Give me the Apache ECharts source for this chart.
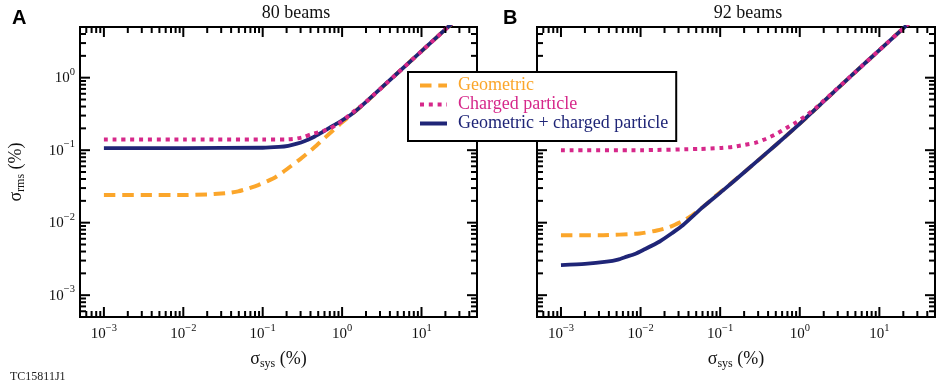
<!DOCTYPE html>
<html>
<head>
<meta charset="utf-8">
<script src="https://cdn.jsdelivr.net/npm/echarts@6/dist/echarts.min.js"></script>
<style>
  html, body { margin: 0; padding: 0; background: #fff; }
  #chart { width: 941px; height: 385px; }
</style>
</head>
<body>
<div id="chart"></div>
<script>
var serif = '"Liberation Serif", "Times New Roman", serif';

// panel A: 80 beams
var xA_geo = [0.001, 0.003, 0.01, 0.02, 0.03, 0.04, 0.049, 0.065, 0.088, 0.115, 0.143, 0.18, 0.23, 0.3, 0.376, 0.48, 0.61, 0.78, 0.99, 1.31, 2, 5, 10, 25];
var yA_geo = [0.024, 0.024, 0.024, 0.0245, 0.0252, 0.026, 0.027, 0.0295, 0.033, 0.0375, 0.042, 0.05, 0.061, 0.076, 0.093, 0.117, 0.149, 0.19, 0.24, 0.31, 0.46, 1.16, 2.32, 5.8];
var xA_chg = [0.001, 0.01, 0.1, 0.2, 0.26, 0.33, 0.41, 0.52, 0.67, 0.83, 1.0, 1.35, 1.94, 5, 10, 25];
var yA_chg = [0.14, 0.14, 0.14, 0.141, 0.144, 0.152, 0.166, 0.178, 0.194, 0.22, 0.252, 0.33, 0.45, 1.16, 2.32, 5.8];
var xA_sum = [0.001, 0.01, 0.1, 0.16, 0.21, 0.27, 0.34, 0.44, 0.55, 0.7, 0.9, 1.3, 1.94, 5, 10, 25];
var yA_sum = [0.107, 0.107, 0.108, 0.111, 0.115, 0.123, 0.134, 0.152, 0.175, 0.205, 0.24, 0.31, 0.45, 1.16, 2.32, 5.8];

// panel B: 92 beams
var xB_geo = [0.001, 0.003, 0.0098, 0.016, 0.0232, 0.033, 0.0454, 0.065, 0.089, 0.1077, 0.211, 0.5, 0.98, 2, 5, 10, 25];
var yB_geo = [0.0067, 0.0067, 0.0071, 0.0078, 0.0087, 0.0104, 0.0128, 0.0175, 0.0237, 0.028, 0.052, 0.118, 0.227, 0.47, 1.2, 2.4, 6.0];
var xB_chg = [0.001, 0.01, 0.055, 0.1, 0.144, 0.2, 0.28, 0.38, 0.5, 0.67, 0.89, 1.2, 1.58, 5, 10, 25];
var yB_chg = [0.10, 0.10, 0.104, 0.107, 0.111, 0.118, 0.127, 0.144, 0.166, 0.2, 0.24, 0.3, 0.38, 1.2, 2.4, 6.0];
var xB_sum = [0.001, 0.002, 0.00375, 0.0052, 0.0067, 0.0085, 0.0108, 0.0174, 0.025, 0.034, 0.0606, 0.1077, 0.211, 0.5, 0.98, 2, 5, 10, 25];
var yB_sum = [0.0026, 0.0027, 0.0029, 0.0031, 0.0034, 0.0037, 0.0042, 0.0055, 0.0072, 0.0092, 0.0164, 0.0277, 0.052, 0.118, 0.227, 0.47, 1.2, 2.4, 6.0];

var names = ['Geometric', 'Charged particle', 'Geometric + charged particle'];
var colors = ['#FBA62B', '#D6288A', '#1F2577'];
var panelTitles = ['80 beams', '92 beams'];
var xMin = 5e-4, xMax = 50, yMin = 5e-4, yMax = 5;

function pairs(xs, ys) {
  return xs.map(function (x, i) { return [x, ys[i]]; });
}

// tick positions (major at 10^k, minor at m*10^k)
function tickList(lo, hi, kind, other) {
  var out = [];
  for (var k = -4; k <= 2; k++) {
    for (var m = 1; m <= 9; m++) {
      var v = m * Math.pow(10, k);
      if (v > lo * 1.001 && v < hi * 0.999) {
        out.push(kind === 0 ? [v, other, 0, m === 1 ? 1 : 0] : [other, v, 1, m === 1 ? 1 : 0]);
      }
    }
  }
  return out;
}
var tickData = tickList(xMin, xMax, 0, 0.01).concat(tickList(yMin, yMax, 1, 0.01));

function powLabel(v) {
  var l = Math.log10(v);
  var e = Math.round(l);
  if (Math.abs(l - e) > 1e-6) return '';
  return '{b|10}{s|' + (e < 0 ? '\u2212' + (-e) : e) + '}';
}
var powRich = {
  b: { fontFamily: serif, fontSize: 15, color: '#111', lineHeight: 16, verticalAlign: 'bottom' },
  s: { fontFamily: serif, fontSize: 10.5, color: '#111', lineHeight: 10, verticalAlign: 'bottom', padding: [0, 0, 8, 0] }
};
var nameRich = {
  g: { fontFamily: serif, fontSize: 18, color: '#111', lineHeight: 18, verticalAlign: 'top' },
  sub: { fontFamily: serif, fontSize: 12, color: '#111', lineHeight: 12, verticalAlign: 'top', padding: [8, 0, 0, 0] }
};

function renderTick(params, api) {
  var cs = params.coordSys;
  var kind = api.value(2);
  var len = api.value(3) ? 10 : 6;
  var p = api.coord([api.value(0), api.value(1)]);
  var st = { stroke: '#000', lineWidth: 2 };
  if (kind === 0) {
    return { type: 'group', children: [
      { type: 'line', shape: { x1: p[0], y1: cs.y + cs.height, x2: p[0], y2: cs.y + cs.height - len }, style: st },
      { type: 'line', shape: { x1: p[0], y1: cs.y, x2: p[0], y2: cs.y + len }, style: st }
    ] };
  }
  return { type: 'group', children: [
    { type: 'line', shape: { x1: cs.x, y1: p[1], x2: cs.x + len, y2: p[1] }, style: st },
    { type: 'line', shape: { x1: cs.x + cs.width, y1: p[1], x2: cs.x + cs.width - len, y2: p[1] }, style: st }
  ] };
}

var panels = [
  [pairs(xA_geo, yA_geo), pairs(xA_chg, yA_chg), pairs(xA_sum, yA_sum)],
  [pairs(xB_geo, yB_geo), pairs(xB_chg, yB_chg), pairs(xB_sum, yB_sum)]
];
var lineTypes = [[11.5, 6.8], [4, 4.8], 'solid'];
var lineWidths = [4, 4, 3.8];
var zs = [2, 4, 3];

var series = [];
panels.forEach(function (curves, p) {
  curves.forEach(function (data, i) {
    series.push({
      name: names[i],
      type: 'line',
      xAxisIndex: p,
      yAxisIndex: p,
      data: data,
      symbol: 'none',
      showSymbol: false,
      smooth: 0.2,
      clip: true,
      z: zs[i],
      itemStyle: { color: colors[i] },
      lineStyle: { color: colors[i], width: lineWidths[i], type: lineTypes[i], cap: 'butt', join: 'round' }
    });
  });
  series.push({
    type: 'custom',
    xAxisIndex: p,
    yAxisIndex: p,
    data: tickData,
    renderItem: renderTick,
    clip: false,
    silent: true,
    z: 6
  });
});

var grids = [
  { left: 80, top: 27, width: 397, height: 290 },
  { left: 537, top: 27, width: 398, height: 290 }
];

var chart = echarts.init(document.getElementById('chart'));
chart.setOption({
  backgroundColor: '#fff',
  animation: false,
  grid: grids.map(function (g) {
    return Object.assign({ show: true, borderColor: '#000', borderWidth: 2, backgroundColor: 'transparent' }, g);
  }),
  xAxis: [0, 1].map(function (p) {
    return {
      type: 'log', logBase: 10, gridIndex: p, min: xMin, max: xMax,
      axisLine: { show: false }, axisTick: { show: false }, splitLine: { show: false },
      axisLabel: { formatter: powLabel, rich: powRich, margin: 9, showMinLabel: false, showMaxLabel: false },
      name: '{g|\u03c3}{sub|sys}{g| (%)}',
      nameLocation: 'middle', nameGap: 33,
      nameTextStyle: { rich: nameRich }
    };
  }),
  yAxis: [0, 1].map(function (p) {
    return {
      type: 'log', logBase: 10, gridIndex: p, min: yMin, max: yMax,
      axisLine: { show: false }, axisTick: { show: false }, splitLine: { show: false },
      axisLabel: { show: p === 0, formatter: powLabel, rich: powRich, margin: 5, showMinLabel: false, showMaxLabel: false },
      name: p === 0 ? '{g|\u03c3}{sub|rms}{g| (%)}' : '',
      nameLocation: 'middle', nameGap: 55, nameRotate: 90,
      nameTextStyle: { rich: nameRich }
    };
  }),
  legend: {
    left: 408, top: 72,
    orient: 'vertical',
    backgroundColor: '#fff',
    borderColor: '#000', borderWidth: 2, borderRadius: 0,
    padding: [4, 8, 8, 10],
    itemWidth: 27, itemHeight: 14, itemGap: 0,
    itemStyle: { opacity: 0 },
    lineStyle: { width: 4 },
    z: 10,
    data: names.map(function (n, i) {
      return { name: n, textStyle: { color: colors[i] } };
    }),
    textStyle: { fontFamily: serif, fontSize: 18, lineHeight: 19, padding: [0, 0, 0, 6] }
  },
  graphic: [
    { type: 'text', x: 12, y: 8, style: { text: 'A', font: 'bold 20px "Liberation Sans", Arial, sans-serif', fill: '#000' } },
    { type: 'text', x: 503, y: 8, style: { text: 'B', font: 'bold 20px "Liberation Sans", Arial, sans-serif', fill: '#000' } },
    { type: 'text', x: 296, y: 4, style: { text: panelTitles[0], font: '18px ' + serif, fill: '#111', align: 'center', textAlign: 'center' } },
    { type: 'text', x: 748, y: 4, style: { text: panelTitles[1], font: '18px ' + serif, fill: '#111', align: 'center', textAlign: 'center' } },
    { type: 'text', x: 10, y: 371, style: { text: 'TC15811J1', font: '12px ' + serif, fill: '#222' } }
  ],
  series: series
});
</script>
</body>
</html>
